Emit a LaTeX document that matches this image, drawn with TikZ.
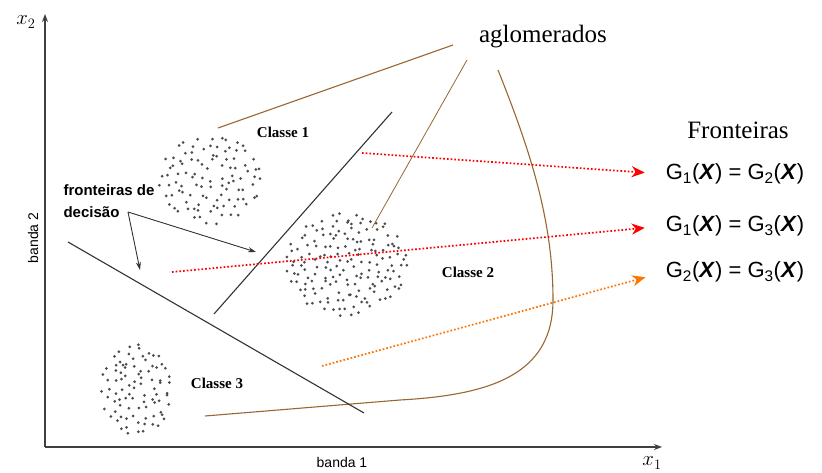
\documentclass[tikz,border=0pt]{standalone}
\usepackage{fontspec}
\setmainfont{Liberation Serif}
\setsansfont{Liberation Sans}
\usetikzlibrary{arrows.meta,calc}

% cloud of dots: centre x, centre y, radius x, radius y, spacing
\newcommand{\dotcloud}[5]{%
  \foreach \i in {-9,...,9}{
    \foreach \j in {-9,...,9}{
      \pgfmathsetmacro\dx{\i*#5+0.45*#5*rand}
      \pgfmathsetmacro\dy{\j*#5+0.45*#5*rand+0.5*#5*mod(\i,2)}
      \pgfmathtruncatemacro\inside{((\dx/#3)^2+(\dy/#4)^2)<1}
      \ifnum\inside=1 \fill [black!70] (#1+\dx,#2+\dy) circle (1.5);\fi
    }}}

\begin{document}
\begin{tikzpicture}[x=1pt,y=-1pt,inner sep=1pt,
  brownline/.style={draw=brown!80!black,line width=1.1pt},
  bound/.style={draw=black!80,line width=1.1pt},
  redarrow/.style={draw=red,dotted,line width=1.7pt,shorten >=20pt,-{Stealth[length=13pt,width=11pt,inset=4pt]}},
  orangearrow/.style={redarrow,draw=orange!90!red},
  classlabel/.style={font=\bfseries\fontsize{15}{16}\selectfont},
  eqlabel/.style={font=\sffamily\fontsize{22}{24}\selectfont}]
  \useasboundingbox (0,0) rectangle (822,473);
  % axes
  \coordinate (o) at (45,447);
  \coordinate (ytop) at (45,14);
  \coordinate (xend) at (662,447);
  \draw [line width=1.3pt,black!75,-{Stealth[length=8pt,width=6pt]}] (o) -- (ytop);
  \draw [line width=1.3pt,black!75,-{Stealth[length=8pt,width=6pt]}] (o) -- (xend);
  \node (x2) at (26,22) {\fontsize{21}{22}\selectfont$x_2$};
  \node (x1) at (652,463) {\fontsize{21}{22}\selectfont$x_1$};
  \node [rotate=90] (b2) at (33,238) {\sffamily\fontsize{14}{16}\selectfont banda 2};
  \node (b1) at (342,462) {\sffamily\fontsize{14}{16}\selectfont banda 1};
  % clusters
  \pgfmathsetseed{11}
  \dotcloud{210}{180}{51}{46}{8.6}
  \dotcloud{346}{264}{61}{53}{7.8}
  \dotcloud{136}{390}{37}{46}{7.8}
  % class labels
  \node [classlabel] (cl1) at (283,132) {Classe 1};
  \node [classlabel] (cl2) at (468,272) {Classe 2};
  \node [classlabel] (cl3) at (217,383) {Classe 3};
  % aglomerados
  \node [font=\fontsize{25}{26}\selectfont] (aglo) at (543,37) {aglomerados};
  \coordinate (a1) at (218,128);
  \coordinate (a2) at (372,228);
  \coordinate (a3s) at (498,70);
  \draw [brownline] (a1) -- (453,45);
  \draw [brownline,line width=0.8pt] (467,60) -- (a2);
  \draw [brownline] (a3s) .. controls (530,150) and (553,220) .. (553,300)
        .. controls (553,375) and (490,395) .. (400,400) -- (205,416);
  % decision boundaries
  \coordinate (d1s) at (392,112);
  \coordinate (d1e) at (214,314);
  \coordinate (d2s) at (68,242);
  \coordinate (d2e) at (364,413);
  \draw [bound] (d1s) -- (d1e);
  \draw [bound] (d2s) -- (d2e);
  \node [align=left,font=\sffamily\bfseries\fontsize{15}{22}\selectfont] (fd) at (109,201)
        {fronteiras de\\decisão};
  \coordinate (fa) at (128,212);
  \coordinate (t1) at (256,252);
  \coordinate (t2) at (140,270);
  \draw [black!80,line width=0.9pt,-{Stealth[length=8pt,width=5pt]}] (fa) -- (t1);
  \draw [black!80,line width=0.9pt,-{Stealth[length=8pt,width=5pt]}] (fa) -- (t2);
  % Fronteiras
  \node [font=\fontsize{25}{26}\selectfont] (fr) at (738,130) {Fronteiras};
  \node [eqlabel] (g12) at (735,174) {G\textsubscript{1}(\textbf{\textit{X}}) = G\textsubscript{2}(\textbf{\textit{X}})};
  \node [eqlabel] (g13) at (735,226) {G\textsubscript{1}(\textbf{\textit{X}}) = G\textsubscript{3}(\textbf{\textit{X}})};
  \node [eqlabel] (g23) at (735,272) {G\textsubscript{2}(\textbf{\textit{X}}) = G\textsubscript{3}(\textbf{\textit{X}})};
  \coordinate (r1) at (362,153);
  \coordinate (r2) at (172,272);
  \coordinate (r3) at (322,366);
  \draw [redarrow] (r1) -- (g12.west);
  \draw [redarrow] (r2) -- (g13.west);
  \draw [orangearrow] (r3) -- (g23.west);
\end{tikzpicture}
\end{document}
